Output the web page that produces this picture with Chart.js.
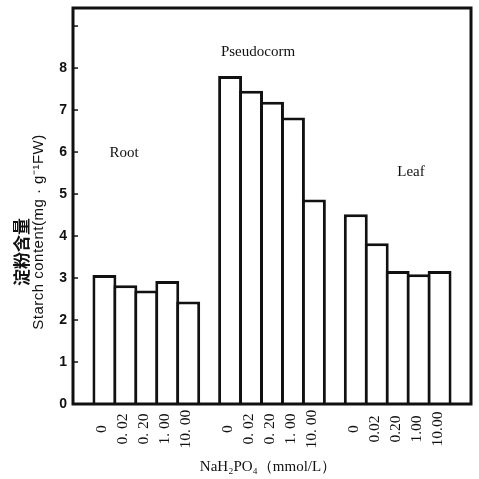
<!DOCTYPE html>
<html>
<head>
<meta charset="utf-8">
<script src="https://cdn.jsdelivr.net/npm/chart.js@4.4.0/dist/chart.umd.min.js"></script>
<style>
  html, body { margin: 0; padding: 0; background: #fff; }
  #wrap { width: 479px; height: 479px; }
</style>
</head>
<body>
<div id="wrap"><canvas id="chart" width="479" height="479"></canvas></div>
<script>
const groups = ['Root', 'Pseudocorm', 'Leaf'];
const concLabels = ['0', '0. 02', '0. 20', '1. 00', '10. 00'];
const leafConcLabels = ['0', '0.02', '0.20', '1.00', '10.00'];
const rootVals = [3.07, 2.83, 2.70, 2.93, 2.44];
const pseudoVals = [7.81, 7.46, 7.20, 6.82, 4.87];
const leafVals = [4.52, 3.83, 3.17, 3.09, 3.17];
const yTicks = [0, 1, 2, 3, 4, 5, 6, 7, 8, 9];

// 19 slots: gap, 5 root, gap, 5 pseudocorm, gap, 5 leaf, gap
const labels = ['', ...concLabels, '', ...concLabels, '', ...leafConcLabels, ''];
const values = [null, ...rootVals, null, ...pseudoVals, null, ...leafVals, null];

const INK = '#111';

const decor = {
  id: 'decor',
  beforeDraw(chart) {
    const c = chart.ctx;
    c.save();
    c.fillStyle = '#fff';
    c.fillRect(0, 0, chart.width, chart.height);
    c.restore();
  },
  afterDraw(chart) {
    const c = chart.ctx;
    const a = chart.chartArea;
    const x = chart.scales.x, y = chart.scales.y;
    c.save();
    c.strokeStyle = INK;
    c.fillStyle = INK;

    // frame
    c.lineWidth = 3;
    c.strokeRect(a.left, a.top, a.right - a.left, a.bottom - a.top);

    // inward ticks
    c.lineWidth = 1.5;
    yTicks.forEach(v => {
      const py = y.getPixelForValue(v);
      c.beginPath();
      c.moveTo(a.left, py);
      c.lineTo(a.left + 5, py);
      c.stroke();
    });

    // rotated concentration labels
    c.font = '15.5px "Liberation Serif", serif';
    c.textAlign = 'center';
    c.textBaseline = 'middle';
    labels.forEach((t, i) => {
      if (!t) return;
      const px = x.getPixelForValue(i) - 2;
      c.save();
      c.translate(px, 429);
      c.rotate(-Math.PI / 2);
      c.fillText(t, 0, 0);
      c.restore();
    });

    // group names
    c.font = '15px "Liberation Serif", serif';
    c.fillText(groups[0], 124, 153);
    c.fillText(groups[1], 258, 52);
    c.fillText(groups[2], 411, 172);

    // x title
    c.font = '15px "Liberation Serif", serif';
    c.fillText('NaH₂PO₄（mmol/L）', 268, 467);

    // y titles
    c.save();
    c.translate(22, 252);
    c.rotate(-Math.PI / 2);
    c.font = 'bold 17px "Noto Sans CJK SC", sans-serif';
    c.fillText('淀粉含量', 0, 0);
    c.restore();

    c.save();
    c.translate(39, 232);
    c.rotate(-Math.PI / 2);
    c.font = '15px "Liberation Sans", Arial, sans-serif';
    c.letterSpacing = '0.5px';
    c.fillText('Starch content(mg · g⁻¹FW)', 0, 0);
    c.restore();

    c.restore();
  }
};

new Chart(document.getElementById('chart'), {
  type: 'bar',
  data: {
    labels: labels,
    datasets: [{
      data: values,
      backgroundColor: '#fff',
      borderColor: INK,
      borderWidth: 3,
      borderSkipped: 'bottom',
      inflateAmount: 0,
      barPercentage: 1.143,
      categoryPercentage: 1
    }]
  },
  options: {
    responsive: false,
    animation: false,
    devicePixelRatio: 1,
    layout: { padding: { top: 8, right: 8, left: 0, bottom: 0 } },
    plugins: { legend: { display: false }, tooltip: { enabled: false } },
    scales: {
      x: {
        grid: { display: false },
        border: { display: false },
        ticks: { display: false },
        afterFit: s => { s.height = 75; }
      },
      y: {
        min: 0, max: 9.43,
        grid: { display: false, drawTicks: false },
        border: { display: false },
        afterBuildTicks: s => { s.ticks = yTicks.map(v => ({ value: v })); },
        ticks: {
          padding: 6,
          color: INK,
          font: { family: '"Liberation Sans", Arial, sans-serif', size: 14, weight: 'bold' },
          callback: v => (v <= 8 ? String(v) : '')
        },
        afterFit: s => { s.width = 73; s.paddingTop = 0; s.paddingBottom = 0; }
      }
    }
  },
  plugins: [decor]
});
</script>
</body>
</html>
